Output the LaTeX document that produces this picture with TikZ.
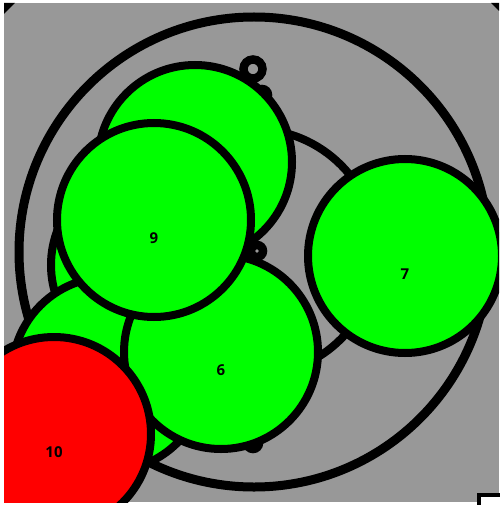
\documentclass[tikz,border=0pt]{standalone}
\usepackage{fontspec}
\setsansfont{Open Sans}
\usetikzlibrary{positioning}
\definecolor{PackGray}{HTML}{989898}
\definecolor{PackGreen}{HTML}{00FF00}
\definecolor{PackRed}{HTML}{FF0000}

\begin{document}
\begin{tikzpicture}[
    x=1pt, y=-1pt,
    ring/.style={
        circle, draw=black, fill=PackGray,
        line width=9pt, inner sep=0pt
    },
    pip/.style={
        circle, draw=black, fill=PackGray,
        line width=8.5pt, inner sep=0pt, minimum size=#1
    },
    bubble/.style={
        circle, draw=black, fill=PackGreen,
        line width=8pt, inner sep=0pt, minimum size=194pt
    },
    hotbubble/.style={bubble, fill=PackRed},
    num/.style={font=\sffamily\bfseries\fontsize{15}{15}\selectfont, inner sep=0pt}
  ]
    \useasboundingbox (0,0) rectangle (499,505);
    \begin{scope}
        \clip (4,3) rectangle (499,502);
        \fill[PackGray] (4,3) rectangle (499,502);
        \fill (4,3) -- (15,3) -- (4,14) -- cycle;
        \fill (491,3) -- (499,3) -- (499,11) -- cycle;

        % enclosing circles
        \node[ring, minimum size=470pt] (outer) at (254,252) {};
        \node[ring, minimum size=246pt, line width=8pt] (inner) at (254,252) {};
        \node[pip=19pt] (pipA) at (253,69) {};
        \node[pip=12pt] (pipB) at (262,95) {};
        \node[pip=12pt] (pipC) at (257,251) {};
        \node[pip=12pt] (pipD) at (253,443) {};

        % leaf circles
        \node[bubble] (hidA) at (148,265) {};
        \node[bubble] (hidB) at (109,374) {};
        \node[bubble] (n8) at (195,162) {};
        \node[bubble] (n7) at (405,256) {};
        \node[bubble] (n6) at (221,352) {};
        \node[bubble] (n9) at (154,220) {};
        \node[hotbubble] (n10) at (54,434) {};

        \node[num] (l9) at ([yshift=-18pt]n9.center) {9};
        \node[num] (l7) at ([yshift=-18pt]n7.center) {7};
        \node[num] (l6) at ([yshift=-18pt]n6.center) {6};
        \node[num] (l10) at ([yshift=-18pt]n10.center) {10};
    \end{scope}
    \draw[line width=4pt, fill=white] (479,495) rectangle (503,509);
\end{tikzpicture}
\end{document}
